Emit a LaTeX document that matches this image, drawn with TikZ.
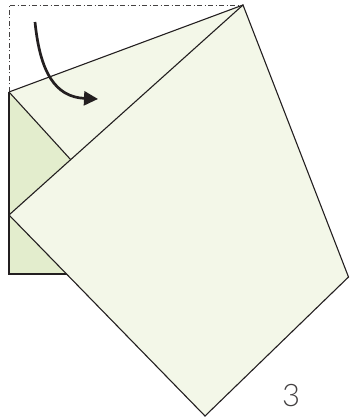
\documentclass[tikz,border=0pt]{standalone}
\usepackage{fontspec}
\newfontfamily\numfont{Lato}[UprightFont=* Light]
\usetikzlibrary{arrows.meta}
\definecolor{palegreen}{HTML}{F3F7E8}
\definecolor{darkgreen}{HTML}{E3EDCD}
\definecolor{inkline}{HTML}{231F20}
\tikzset{
  outline/.style={draw=inkline, line width=1.1pt, line join=miter},
  guide/.style={draw=inkline!85, line width=0.7pt, dash pattern=on 5pt off 2.5pt on 1pt off 2.5pt},
  foldarrow/.style={draw=inkline, line width=2.7pt, -{Triangle[length=14pt,width=14pt]}},
  steplabel/.style={font=\numfont\fontsize{31}{31}\selectfont, text=inkline!85, inner sep=0pt}
}
\begin{document}
\begin{tikzpicture}[x=1pt,y=-1pt]
\useasboundingbox (0,0) rectangle (349,419);
% key points
\coordinate (TL) at (9,5);
\coordinate (A) at (243,5);
\coordinate (B) at (9,92);
\coordinate (X) at (71,160);
\coordinate (C) at (9,215);
\coordinate (BL) at (9,274);
\coordinate (G) at (67,274);
\coordinate (Y) at (160,260);
\coordinate (E) at (348.5,277);
\coordinate (F) at (205,416);
% dashed outline of original position
\draw[guide] (B) -- (TL) -- (A);
% back strip (darker)
\fill[darkgreen] (B) -- (X) -- (Y) -- (G) -- (BL) -- cycle;
\draw[outline] (B) -- (BL) -- (G);
% pale folded flap
\fill[palegreen] (B) -- (A) -- (X) -- cycle;
\draw[outline] (B) -- (A);
\draw[outline] (B) -- (X);
% front large piece
\filldraw[outline, fill=palegreen] (A) -- (E) -- (F) -- (C) -- cycle;
% fold arrow
\coordinate (s) at (35,22);
\coordinate (t) at (98,99);
\draw[foldarrow] (s) .. controls (40,72) and (55,97) .. (t);
% step number
\node[steplabel] (n3) at (291,396) {3};
\end{tikzpicture}
\end{document}
